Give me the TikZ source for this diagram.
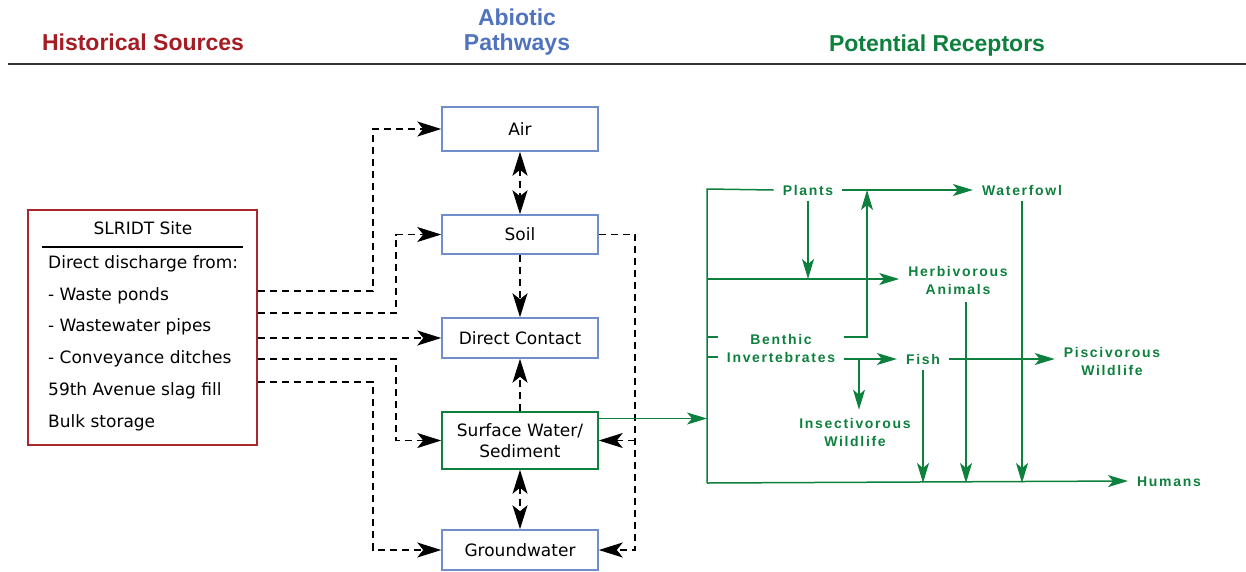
\documentclass[tikz,border=0pt]{standalone}
\usepackage{fontspec}
\setmainfont{DejaVu Sans}
\newfontfamily\hdfont{Liberation Sans}
\newfontfamily\gfont[LetterSpace=12]{Liberation Sans}
\usetikzlibrary{arrows.meta}
\definecolor{hred}{RGB}{165,28,36}
\definecolor{bred}{RGB}{170,40,45}
\definecolor{hblue}{RGB}{80,115,190}
\definecolor{bblue}{RGB}{112,142,204}
\definecolor{gcol}{RGB}{14,128,62}
\tikzset{
  hdr/.style={font=\hdfont\bfseries\fontsize{23}{25}\selectfont, inner sep=0pt, align=center},
  txt/.style={font=\fontsize{17}{21}\selectfont, inner sep=0pt, text height=12pt, text depth=3.5pt},
  pbox/.style={draw=bblue, line width=1.5pt, minimum width=156pt, inner sep=2pt, align=center, font=\fontsize{17}{21}\selectfont},
  gbase/.style={font=\gfont\bfseries\fontsize{14}{18}\selectfont, text=gcol, align=center, inner xsep=9pt},
  glab/.style={gbase, inner ysep=6pt, text height=10pt, text depth=0pt},
  glab2/.style={gbase, inner ysep=8pt},
  gline/.style={draw=gcol, line width=1.5pt},
  garrow/.style={gline, -{Stealth[length=20pt,width=12pt,inset=5pt]}},
  btip/.tip={Stealth[length=24pt,width=15pt,inset=6pt]},
  darrow/.style={draw=black, line width=1.5pt, dash pattern=on 7pt off 5pt, -btip},
  ddarrow/.style={draw=black, line width=1.5pt, dash pattern=on 7pt off 5pt, btip-btip}
}
\begin{document}
\begin{tikzpicture}[x=1pt,y=-1pt]
\useasboundingbox (0,0) rectangle (1246,571);
% headers
\node[hdr, text=hred] (hs) at (143,42) {Historical Sources};
\node[hdr, text=hblue] (ap) at (517,32) {Abiotic\\Pathways};
\node[hdr, text=gcol] (pr) at (937,46) {Potential Receptors};
\draw[line width=2.2pt, draw=black!80] (8,64) -- (1246,64);

% source box
\node[draw=bred, line width=2.5pt, minimum width=229pt, minimum height=235pt, inner sep=0pt] (src) at (142.5,327.5) {};
\node[txt] (st) at (143,230) {SLRIDT Site};
\draw[line width=1.5pt] (42,247) -- (243,247);
\node[txt, anchor=west] (l1) at (48,264) {Direct discharge from:};
\node[txt, anchor=west] (l2) at (48,296) {- Waste ponds};
\node[txt, anchor=west] (l3) at (48,327) {- Wastewater pipes};
\node[txt, anchor=west] (l4) at (48,359) {- Conveyance ditches};
\node[txt, anchor=west] (l5) at (48,391) {59th Avenue slag fill};
\node[txt, anchor=west] (l6) at (48,423) {Bulk storage};

% pathway boxes
\node[pbox, minimum height=44pt] (air) at (520,129) {Air};
\node[pbox, minimum height=39pt] (soil) at (520,234.5) {Soil};
\node[pbox, minimum height=40pt] (dc) at (520,338) {Direct Contact};
\node[pbox, draw=gcol, minimum height=57pt] (sw) at (520,440.5) {Surface Water/\\Sediment};
\node[pbox, minimum height=40pt] (gw) at (520,550) {Groundwater};

% source connectors
\coordinate (s1) at (src.east |- 0,291);
\coordinate (s2) at (src.east |- 0,313);
\coordinate (s3) at (src.east |- 0,338);
\coordinate (s4) at (src.east |- 0,359);
\coordinate (s5) at (src.east |- 0,382);
\coordinate (xa) at (373,0);
\coordinate (xb) at (396,0);
\coordinate (xc) at (635,0);
\draw[darrow] (s1) -- (s1 -| xa) |- (air.west);
\draw[darrow] (s2) -- (s2 -| xb) |- (soil.west);
\draw[darrow] (s3) -- (dc.west);
\draw[darrow] (s4) -- (s4 -| xb) |- (sw.west);
\draw[darrow] (s5) -- (s5 -| xa) |- (gw.west);
\draw[darrow] (soil.east) -- (soil.east -| xc) |- (gw.east);
\draw[darrow] (sw.east -| xc) -- (sw.east);
\draw[ddarrow] (air.south) -- (soil.north);
\draw[darrow] (soil.south) -- (dc.north);
\draw[darrow] (sw.north) -- (dc.south);
\draw[ddarrow] (sw.south) -- (gw.north);

% receptors
\coordinate (bt) at (707,189);
\coordinate (bb) at (707,483);
\coordinate (h0) at (707,279);
\coordinate (bu) at (867,337);
\coordinate (iv) at (859,359);
\node[glab] (plants) at (808,190) {Plants};
\node[glab] (wf) at (1022,190) {Waterfowl};
\node[glab2] (herb) at (958,280) {Herbivorous\\Animals};
\node[glab2] (ben) at (781,348) {Benthic\\Invertebrates};
\node[glab] (fish) at (923,359) {Fish};
\node[glab2] (ins) at (855,432) {Insectivorous\\Wildlife};
\node[glab2] (pis) at (1112,361) {Piscivorous\\Wildlife};
\node[glab] (hum) at (1169,481) {Humans};

\draw[garrow] ([yshift=22pt]sw.east) -- ([yshift=22pt]sw.east -| bt);
\draw[gline] (plants.west) -- (bt) -- (bb);
\draw[garrow] (bb) -- (hum.west);
\draw[garrow] (plants.east) -- (wf.west);
\draw[garrow] (plants.south) -- (plants.south |- h0);
\draw[garrow] (h0) -- (h0 -| herb.west);
\draw[garrow] (ben.east |- bu) -- (bu) -- (bu |- plants.east);
\draw[gline] (bt |- bu) -- (ben.west |- bu);
\draw[gline] (bt |- 0,357) -- (ben.west |- 0,357);
\draw[garrow] (ben.east |- fish) -- (fish.west);
\draw[garrow] (iv) -- (iv |- ins.north);
\draw[garrow] (fish.east) -- (pis.west |- fish.east);
\draw[garrow] (fish.south) -- (fish.south |- bb);
\draw[garrow] ([xshift=8pt]herb.south) -- ([xshift=8pt]herb.south |- bb);
\draw[garrow] (wf.south) -- (wf.south |- bb);
\end{tikzpicture}
\end{document}
